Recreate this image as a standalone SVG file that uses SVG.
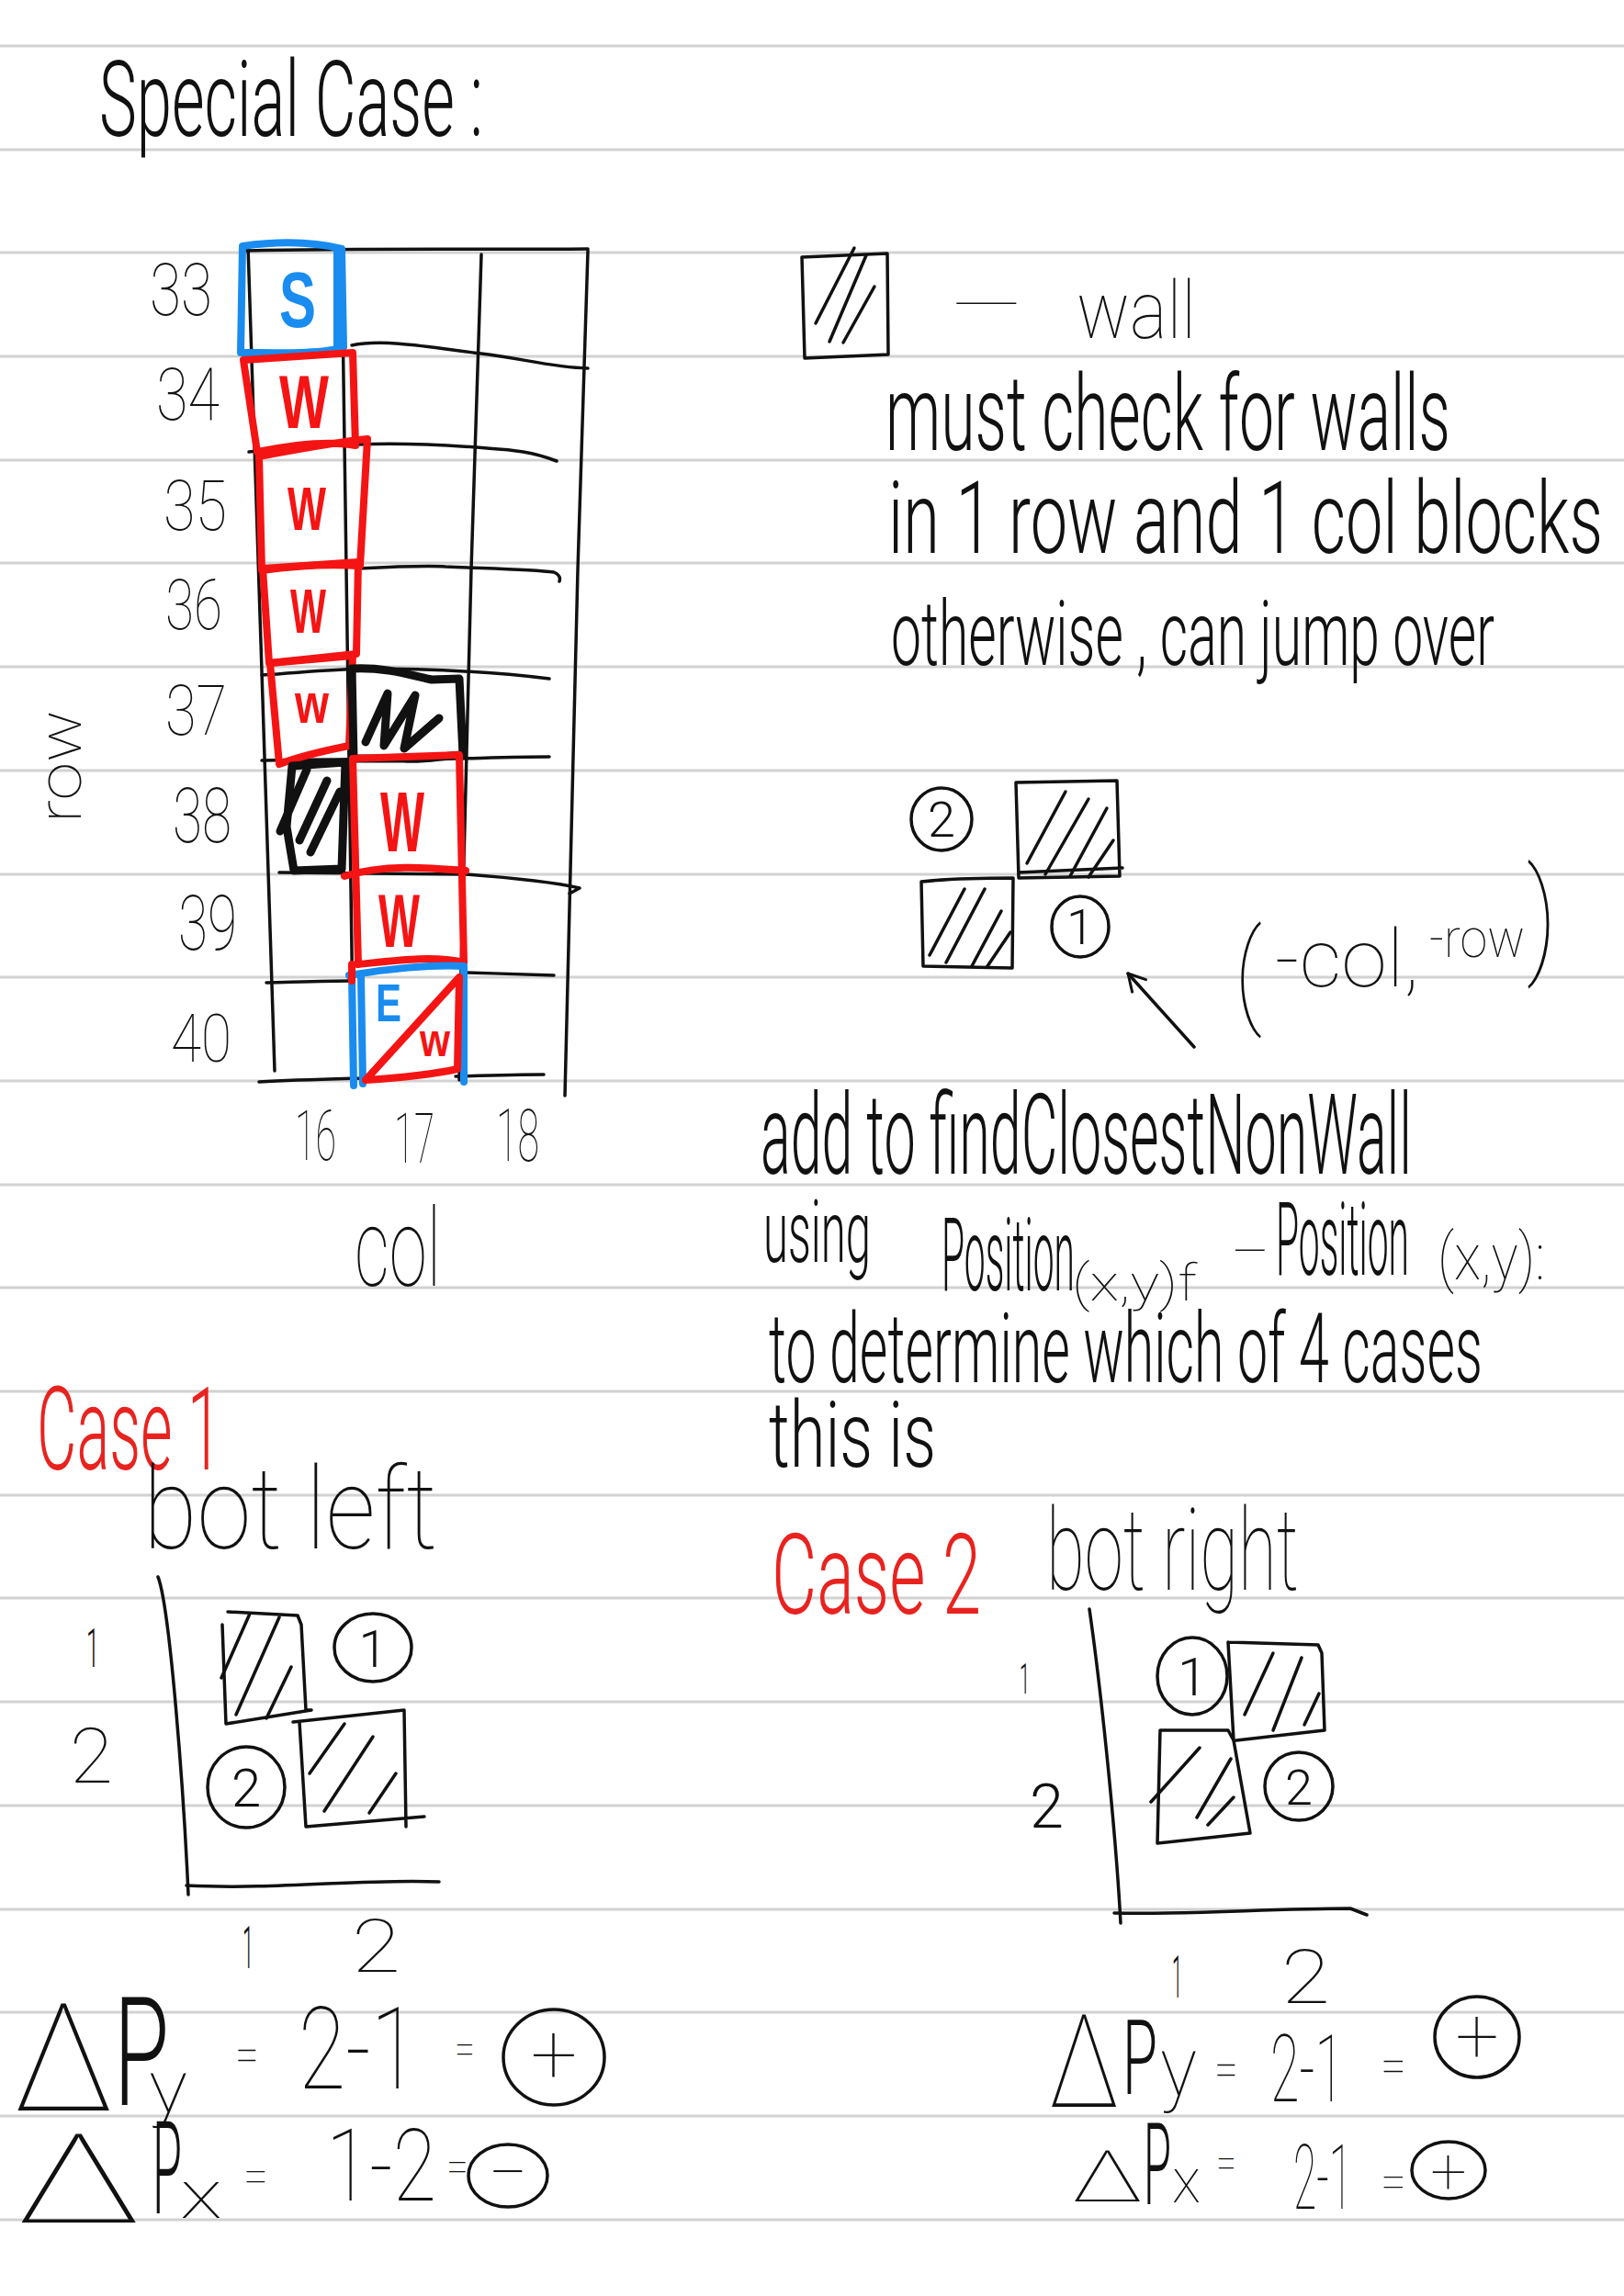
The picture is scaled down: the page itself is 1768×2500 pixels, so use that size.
<svg xmlns="http://www.w3.org/2000/svg" width="1768" height="2500" viewBox="0 0 1768 2500">
<defs>
<style>
.rule{stroke:#d2d2d2;stroke-width:3}
.ink{fill:none;stroke:#111;stroke-width:3.5;stroke-linecap:round;stroke-linejoin:round}
.thick{fill:none;stroke:#111;stroke-width:9;stroke-linecap:round;stroke-linejoin:round}
.redb{fill:none;stroke:#f51414;stroke-width:8;stroke-linecap:round;stroke-linejoin:round}
.blueb{fill:none;stroke:#1a8cf0;stroke-width:8;stroke-linecap:round;stroke-linejoin:round}
.hw{font-family:Roboto,Lato,"Liberation Sans",sans-serif;font-weight:100;fill:#111}
.hl{font-family:Roboto,Lato,"Liberation Sans",sans-serif;font-weight:300;fill:#111}
.red{fill:#e8231f}
.mk{font-family:"Liberation Sans",Arial,sans-serif;font-weight:bold}
</style>
<marker id="vhead" viewBox="0 0 24 24" refX="22" refY="12" markerWidth="24" markerHeight="24" markerUnits="userSpaceOnUse" orient="auto">
<path d="M4,2 L22,12 L4,22" fill="none" stroke="#111" stroke-width="3" stroke-linecap="round" stroke-linejoin="round"/>
</marker>
</defs>
<rect width="1768" height="2500" fill="#fff"/>
<g id="ruled-lines">
<line class="rule" x1="0" y1="50" x2="1768" y2="50"/>
<line class="rule" x1="0" y1="163" x2="1768" y2="163"/>
<line class="rule" x1="0" y1="275" x2="1768" y2="275"/>
<line class="rule" x1="0" y1="388" x2="1768" y2="388"/>
<line class="rule" x1="0" y1="501" x2="1768" y2="501"/>
<line class="rule" x1="0" y1="613" x2="1768" y2="613"/>
<line class="rule" x1="0" y1="726" x2="1768" y2="726"/>
<line class="rule" x1="0" y1="839" x2="1768" y2="839"/>
<line class="rule" x1="0" y1="952" x2="1768" y2="952"/>
<line class="rule" x1="0" y1="1064" x2="1768" y2="1064"/>
<line class="rule" x1="0" y1="1177" x2="1768" y2="1177"/>
<line class="rule" x1="0" y1="1290" x2="1768" y2="1290"/>
<line class="rule" x1="0" y1="1402" x2="1768" y2="1402"/>
<line class="rule" x1="0" y1="1515" x2="1768" y2="1515"/>
<line class="rule" x1="0" y1="1628" x2="1768" y2="1628"/>
<line class="rule" x1="0" y1="1740" x2="1768" y2="1740"/>
<line class="rule" x1="0" y1="1853" x2="1768" y2="1853"/>
<line class="rule" x1="0" y1="1966" x2="1768" y2="1966"/>
<line class="rule" x1="0" y1="2079" x2="1768" y2="2079"/>
<line class="rule" x1="0" y1="2191" x2="1768" y2="2191"/>
<line class="rule" x1="0" y1="2304" x2="1768" y2="2304"/>
<line class="rule" x1="0" y1="2417" x2="1768" y2="2417"/>
</g>

<g id="title">
<text class="hl" transform="translate(108,148) scale(1,1.72)" x="0" y="0" font-size="67" textLength="418" lengthAdjust="spacingAndGlyphs">Special Case :</text>
</g>

<g id="main-grid">
<path class="ink" d="M268,273 C400,270 520,272 640,271"/>
<path class="ink" d="M270,268 L284,700 L299,1166"/>
<path class="ink" d="M372,273 L385,1176"/>
<path class="ink" d="M524,277 L513,620 L502,1056 L500,1176"/>
<path class="ink" d="M640,273 L629,620 L615,1193"/>
<path class="ink" d="M383,376 C420,368 480,380 524,385 S600,400 640,401"/>
<path class="ink" d="M271,492 C320,486 360,484 389,484 C430,482 480,484 530,488 C560,490 580,492 606,502"/>
<path class="ink" d="M389,619 C430,617 470,616 485,617 C530,619 580,620 603,623 C610,626 610,630 609,633"/>
<path class="ink" d="M285,735 C330,732 360,729 395,728 C470,728 540,732 598,739"/>
<path class="ink" d="M285,828 C360,827 440,826 502,826 C540,825 570,824 598,824"/>
<path class="ink" d="M304,950 C380,951 450,952 507,952 C560,956 600,960 631,967 L620,973"/>
<path class="ink" d="M290,1070 C330,1069 360,1068 383,1068 M507,1059 C540,1060 580,1061 603,1062"/>
<path class="ink" d="M282,1178 C320,1176 360,1175 395,1174 M496,1172 C530,1171 560,1170 592,1170"/>
</g>

<g id="row-labels">
<text class="hw" x="163" y="343" font-size="80" textLength="68" lengthAdjust="spacingAndGlyphs">33</text>
<text class="hw" x="170" y="457" font-size="80" textLength="69" lengthAdjust="spacingAndGlyphs">34</text>
<text class="hw" x="178" y="577" font-size="76" textLength="69" lengthAdjust="spacingAndGlyphs">35</text>
<text class="hw" x="180" y="685" font-size="76" textLength="62" lengthAdjust="spacingAndGlyphs">36</text>
<text class="hw" x="180" y="800" font-size="76" textLength="67" lengthAdjust="spacingAndGlyphs">37</text>
<text class="hw" x="188" y="917" font-size="84" textLength="64" lengthAdjust="spacingAndGlyphs">38</text>
<text class="hw" x="194" y="1034" font-size="84" textLength="64" lengthAdjust="spacingAndGlyphs">39</text>
<text class="hw" x="186" y="1156" font-size="72" textLength="66" lengthAdjust="spacingAndGlyphs">40</text>
<text class="hw" transform="translate(88,896) rotate(-90)" x="0" y="0" font-size="66" textLength="123" lengthAdjust="spacingAndGlyphs">row</text>
</g>

<g id="col-labels">
<text class="hw" x="321" y="1263" font-size="76" textLength="45" lengthAdjust="spacingAndGlyphs">16</text>
<text class="hw" x="429" y="1266" font-size="76" textLength="44" lengthAdjust="spacingAndGlyphs">17</text>
<text class="hw" x="540" y="1264" font-size="80" textLength="47" lengthAdjust="spacingAndGlyphs">18</text>
<text class="hw" x="386" y="1400" font-size="118" textLength="94" lengthAdjust="spacingAndGlyphs">col</text>
</g>

<g id="cell-start">
<path class="blueb" d="M262,384 L264,268 C300,263 340,263 372,271 L374,378 C350,386 300,384 262,384 Z"/>
<path class="blueb" d="M367,274 L367,380"/>
<text class="mk" x="304" y="356" font-size="86" fill="#1a8cf0" textLength="40" lengthAdjust="spacingAndGlyphs">S</text>
</g>
<g id="cell-w34">
<path class="redb" d="M265,392 L384,384 L387,485 C350,478 300,488 280,492 Z"/>
<text class="mk" x="304" y="466" font-size="82" fill="#f51414" textLength="54" lengthAdjust="spacingAndGlyphs">W</text>
</g>
<g id="cell-w35">
<path class="redb" d="M282,497 C320,490 360,482 400,478 L392,616 C360,614 320,616 285,621 Z"/>
<text class="mk" x="313" y="577" font-size="66" fill="#f51414" textLength="42" lengthAdjust="spacingAndGlyphs">W</text>
</g>
<g id="cell-w36">
<path class="redb" d="M286,619 L390,612 L388,712 L293,722 Z"/>
<text class="mk" x="316" y="689" font-size="68" fill="#f51414" textLength="39" lengthAdjust="spacingAndGlyphs">W</text>
</g>
<g id="cell-w37">
<path class="redb" d="M294,722 L384,714 L380,812 C350,818 320,826 304,832 Z"/>
<text class="mk" x="321" y="787" font-size="62" fill="#f51414" textLength="37" lengthAdjust="spacingAndGlyphs">w</text>
</g>
<g id="cell-wall-37">
<path class="thick" d="M383,728 C420,726 450,736 470,740 L500,739 L504,822 C480,823 460,828 440,826 L385,826 Z"/>
<path class="thick" d="M398,808 L422,755 L418,812 L452,757 L440,815 L478,782"/>
</g>
<g id="cell-wall-38">
<path class="thick" d="M318,834 L376,830 L372,946 L320,948 L312,900 Z"/>
<path class="thick" d="M305,905 L334,838 M326,915 L356,850 M338,928 L370,862"/>
</g>
<g id="cell-w38-39">
<path class="redb" d="M384,826 L500,822 L505,1048 C470,1040 430,1046 390,1050 Z"/>
<path class="redb" d="M375,954 C420,940 470,945 507,948"/>
<text class="mk" x="414" y="927" font-size="92" fill="#f51414" textLength="48" lengthAdjust="spacingAndGlyphs">W</text>
<text class="mk" x="412" y="1031" font-size="82" fill="#f51414" textLength="45" lengthAdjust="spacingAndGlyphs">W</text>
</g>
<g id="cell-end">
<path class="blueb" d="M380,1062 C420,1055 470,1050 505,1052 L505,1178 M383,1062 L385,1182 M393,1064 L395,1180"/>
<path class="redb" d="M383,1050 L383,1068"/>
<path class="redb" d="M398,1176 L500,1064 L498,1164 C470,1170 430,1174 398,1176 Z"/>
<text class="mk" x="409" y="1112" font-size="58" fill="#1a8cf0" textLength="28" lengthAdjust="spacingAndGlyphs">E</text>
<text class="mk" x="457" y="1150" font-size="50" fill="#f51414" textLength="33" lengthAdjust="spacingAndGlyphs">w</text>
</g>

<g id="legend">
<path class="ink" d="M873,280 L966,276 L967,386 L876,390 Z"/>
<path class="ink" d="M888,352 L930,270 M903,372 L943,278 M918,373 L952,312"/>
<text class="hw" x="1036" y="352" font-size="60" textLength="76" lengthAdjust="spacingAndGlyphs">—</text>
<text class="hw" x="1172" y="368" font-size="88" textLength="130" lengthAdjust="spacingAndGlyphs">wall</text>
</g>

<g id="notes-top">
<text class="hl" transform="translate(964,490) scale(1,1.8)" x="0" y="0" font-size="64" textLength="615" lengthAdjust="spacingAndGlyphs">must check for walls</text>
<text class="hl" transform="translate(967,602) scale(1,1.6)" x="0" y="0" font-size="68" textLength="778" lengthAdjust="spacingAndGlyphs">in 1 row and 1 col blocks</text>
<text class="hl" transform="translate(970,724) scale(1,1.8)" x="0" y="0" font-size="55" textLength="657" lengthAdjust="spacingAndGlyphs">otherwise , can jump over</text>
</g>

<g id="example">
<ellipse class="ink" cx="1025" cy="892" rx="33" ry="34"/>
<text class="hl" x="1025" y="911" font-size="54" text-anchor="middle">2</text>
<path class="ink" d="M1106,852 L1216,850 L1219,954 L1109,956 Z M1109,950 L1222,945"/>
<path class="ink" d="M1118,940 L1160,862 M1138,952 L1185,870 M1165,954 L1205,880 M1185,955 L1212,915"/>
<path class="ink" d="M1003,960 C1040,956 1080,956 1103,956 L1102,1054 L1005,1052 Z"/>
<path class="ink" d="M1012,1040 L1050,968 M1030,1048 L1072,968 M1058,1052 L1090,992 M1075,1052 L1100,1015"/>
<ellipse class="ink" cx="1176" cy="1009" rx="31" ry="33"/>
<text class="hl" x="1176" y="1028" font-size="54" text-anchor="middle">1</text>
<text class="hw" x="1344" y="1102" font-size="125" textLength="30" lengthAdjust="spacingAndGlyphs">(</text>
<text class="hw" x="1388" y="1074" font-size="88" textLength="157" lengthAdjust="spacingAndGlyphs">-col,</text>
<text class="hw" x="1556" y="1042" font-size="60" textLength="104" lengthAdjust="spacingAndGlyphs">-row</text>
<text class="hw" x="1662" y="1045" font-size="137" textLength="33" lengthAdjust="spacingAndGlyphs">)</text>
</g>

<g id="connectors">
<path class="ink" d="M1300,1140 L1228,1060" marker-end="url(#vhead)"/>
</g>

<g id="notes-middle">
<text class="hl" transform="translate(828,1278) scale(1,2.1)" x="0" y="0" font-size="58" textLength="709" lengthAdjust="spacingAndGlyphs">add to findClosestNonWall</text>
<text class="hl" transform="translate(831,1374) scale(1,1.9)" x="0" y="0" font-size="50" textLength="117" lengthAdjust="spacingAndGlyphs">using</text>
<text class="hl" transform="translate(1025,1405) scale(1,2.7)" x="0" y="0" font-size="41" textLength="145" lengthAdjust="spacingAndGlyphs">Position</text>
<text class="hw" x="1167" y="1416" font-size="56" textLength="136" lengthAdjust="spacingAndGlyphs">(x,y)f</text>
<text class="hw" x="1340" y="1383" font-size="60" textLength="42" lengthAdjust="spacingAndGlyphs">–</text>
<text class="hl" transform="translate(1389,1388) scale(1,2.7)" x="0" y="0" font-size="41" textLength="145" lengthAdjust="spacingAndGlyphs">Position</text>
<text class="hw" x="1565" y="1393" font-size="70" textLength="117" lengthAdjust="spacingAndGlyphs">(x,y):</text>
<text class="hl" transform="translate(837,1505) scale(1,1.85)" x="0" y="0" font-size="57" textLength="777" lengthAdjust="spacingAndGlyphs">to determine which of 4 cases</text>
<text class="hl" transform="translate(837,1597) scale(1,1.5)" x="0" y="0" font-size="67" textLength="182" lengthAdjust="spacingAndGlyphs">this is</text>
</g>

<g id="case1">
<text class="hl red" transform="translate(40,1600) scale(1,1.9)" x="0" y="0" font-size="66" textLength="201" lengthAdjust="spacingAndGlyphs">Case 1</text>
<text class="hw" x="156" y="1686" font-size="125" textLength="320" lengthAdjust="spacingAndGlyphs">bot left</text>
<path class="ink" d="M172,1717 C185,1750 200,1950 205,2063"/>
<path class="ink" d="M203,2053 C300,2058 400,2045 478,2049"/>
<text class="hl" x="94" y="1815" font-size="60" textLength="14" lengthAdjust="spacingAndGlyphs">1</text>
<text class="hw" x="76" y="1941" font-size="84" textLength="47" lengthAdjust="spacingAndGlyphs">2</text>
<path class="ink" d="M248,1755 L324,1759 L328,1769 L333,1862 L339,1862 M242,1769 L246,1877 L339,1862"/>
<path class="ink" d="M241,1827 L272,1757 M257,1867 L304,1761 M290,1871 L317,1815"/>
<ellipse class="ink" cx="406" cy="1794" rx="42" ry="37"/>
<text class="hl" x="406" y="1815" font-size="56" text-anchor="middle">1</text>
<path class="ink" d="M319,1875 L440,1862 L442,1989 M326,1875 L333,1989 L462,1978"/>
<path class="ink" d="M337,1931 L375,1877 M353,1972 L406,1891 M402,1974 L431,1931"/>
<ellipse class="ink" cx="268" cy="1946" rx="42" ry="44"/>
<text class="hl" x="268" y="1967" font-size="58" text-anchor="middle">2</text>
<text class="hl" x="264" y="2143" font-size="64" textLength="12" lengthAdjust="spacingAndGlyphs">1</text>
<text class="hw" x="383" y="2147" font-size="80" textLength="53" lengthAdjust="spacingAndGlyphs">2</text>
<text class="hw" transform="translate(15,2298) scale(1,1.3)" x="0" y="0" font-size="126" textLength="108" lengthAdjust="spacingAndGlyphs">Δ</text>
<text class="hl" transform="translate(124,2292) scale(1,1.7)" x="0" y="0" font-size="97" textLength="60" lengthAdjust="spacingAndGlyphs">P</text>
<text class="hw" x="162" y="2300" font-size="80" textLength="42" lengthAdjust="spacingAndGlyphs">y</text>
<text class="hw" x="256" y="2256" font-size="56" textLength="26" lengthAdjust="spacingAndGlyphs">=</text>
<text class="hw" transform="translate(325,2274) scale(1,1.35)" x="0" y="0" font-size="92" textLength="130" lengthAdjust="spacingAndGlyphs">2-1</text>
<text class="hw" x="495" y="2248" font-size="50" textLength="22" lengthAdjust="spacingAndGlyphs">=</text>
<ellipse class="ink" cx="603" cy="2240" rx="55" ry="52"/>
<text class="hw" x="603" y="2268" font-size="90" text-anchor="middle">+</text>
<text class="hw" x="18" y="2420" font-size="135" textLength="135" lengthAdjust="spacingAndGlyphs">Δ</text>
<text class="hl" transform="translate(166,2410) scale(1,2.6)" x="0" y="0" font-size="54" textLength="32" lengthAdjust="spacingAndGlyphs">P</text>
<text class="hw" x="196" y="2415" font-size="74" textLength="46" lengthAdjust="spacingAndGlyphs">x</text>
<text class="hw" x="265" y="2388" font-size="54" textLength="27" lengthAdjust="spacingAndGlyphs">=</text>
<text class="hw" transform="translate(355,2396) scale(1,1.3)" x="0" y="0" font-size="84" textLength="120" lengthAdjust="spacingAndGlyphs">1-2</text>
<text class="hw" x="486" y="2376" font-size="50" textLength="24" lengthAdjust="spacingAndGlyphs">=</text>
<ellipse class="ink" cx="553" cy="2369" rx="43" ry="34"/>
<text class="hw" x="553" y="2392" font-size="76" text-anchor="middle">−</text>
</g>

<g id="case2">
<text class="hl red" transform="translate(840,1757) scale(1,1.65)" x="0" y="0" font-size="74" textLength="228" lengthAdjust="spacingAndGlyphs">Case 2</text>
<text class="hw" x="1139" y="1731" font-size="125" textLength="275" lengthAdjust="spacingAndGlyphs">bot right</text>
<path class="ink" d="M1186,1752 C1200,1850 1215,2000 1220,2094"/>
<path class="ink" d="M1213,2083 C1300,2085 1380,2078 1470,2078 L1488,2085"/>
<text class="hl" x="1110" y="1844" font-size="46" textLength="11" lengthAdjust="spacingAndGlyphs">1</text>
<text class="hl" x="1121" y="1990" font-size="66" textLength="37" lengthAdjust="spacingAndGlyphs">2</text>
<ellipse class="ink" cx="1298" cy="1825" rx="38" ry="42"/>
<text class="hl" x="1298" y="1846" font-size="58" text-anchor="middle">1</text>
<path class="ink" d="M1337,1788 L1435,1791 L1439,1800 L1442,1884 L1346,1895 M1337,1788 L1343,1895"/>
<path class="ink" d="M1355,1867 L1386,1800 M1386,1884 L1417,1805 M1420,1878 L1436,1844"/>
<path class="ink" d="M1263,1884 L1337,1884 L1343,1895 L1361,1996 L1260,2007 L1263,1884"/>
<path class="ink" d="M1253,1962 L1306,1903 M1303,1979 L1340,1915 M1315,1987 L1343,1957"/>
<ellipse class="ink" cx="1414" cy="1945" rx="37" ry="37"/>
<text class="hl" x="1414" y="1965" font-size="54" text-anchor="middle">2</text>
<text class="hl" x="1276" y="2175" font-size="64" textLength="11" lengthAdjust="spacingAndGlyphs">1</text>
<text class="hw" x="1395" y="2181" font-size="82" textLength="53" lengthAdjust="spacingAndGlyphs">2</text>
<text class="hw" transform="translate(1142,2294) scale(1,1.22)" x="0" y="0" font-size="115" textLength="76" lengthAdjust="spacingAndGlyphs">Δ</text>
<text class="hl" transform="translate(1222,2280) scale(1,1.9)" x="0" y="0" font-size="60" textLength="38" lengthAdjust="spacingAndGlyphs">P</text>
<text class="hw" x="1263" y="2282" font-size="90" textLength="40" lengthAdjust="spacingAndGlyphs">y</text>
<text class="hw" x="1322" y="2272" font-size="56" textLength="26" lengthAdjust="spacingAndGlyphs">=</text>
<text class="hw" transform="translate(1383,2288) scale(1,1.75)" x="0" y="0" font-size="58" textLength="80" lengthAdjust="spacingAndGlyphs">2-1</text>
<text class="hw" x="1503" y="2268" font-size="56" textLength="28" lengthAdjust="spacingAndGlyphs">=</text>
<ellipse class="ink" cx="1608" cy="2218" rx="46" ry="44"/>
<text class="hw" x="1608" y="2246" font-size="84" text-anchor="middle">+</text>
<text class="hw" x="1167" y="2397" font-size="78" textLength="77" lengthAdjust="spacingAndGlyphs">Δ</text>
<text class="hl" transform="translate(1245,2400) scale(1,2.6)" x="0" y="0" font-size="48" textLength="30" lengthAdjust="spacingAndGlyphs">P</text>
<text class="hw" x="1276" y="2398" font-size="68" textLength="31" lengthAdjust="spacingAndGlyphs">x</text>
<text class="hw" x="1324" y="2372" font-size="48" textLength="22" lengthAdjust="spacingAndGlyphs">=</text>
<text class="hw" transform="translate(1408,2405) scale(1,2.1)" x="0" y="0" font-size="47" textLength="64" lengthAdjust="spacingAndGlyphs">2-1</text>
<text class="hw" x="1503" y="2394" font-size="54" textLength="28" lengthAdjust="spacingAndGlyphs">=</text>
<ellipse class="ink" cx="1577" cy="2363" rx="40" ry="31"/>
<text class="hw" x="1577" y="2388" font-size="70" text-anchor="middle">+</text>
</g>
</svg>
